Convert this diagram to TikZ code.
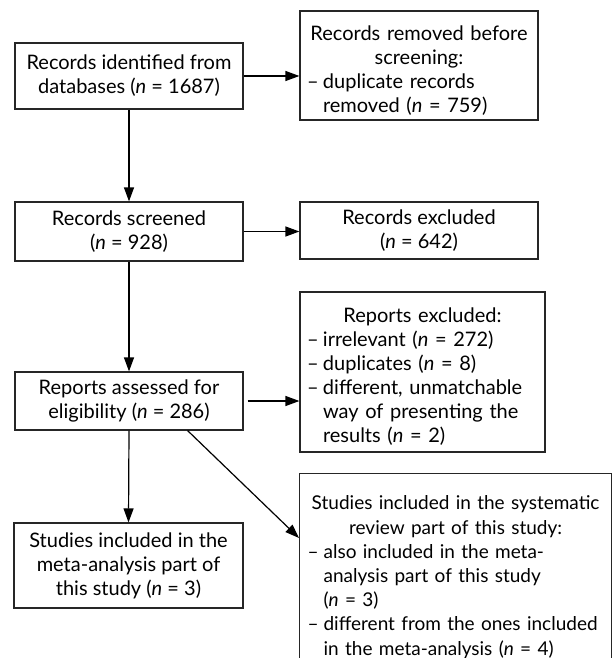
\documentclass[tikz,border=0pt]{standalone}
\usepackage{fontspec}
\setmainfont{Lato}
\usetikzlibrary{arrows.meta}
\newcommand{\dashitem}[1]{\par\hangindent=16pt\hangafter=1\noindent\makebox[16pt][l]{–}#1\par}
\newcommand{\hd}[1]{\par\noindent\makebox[\linewidth][c]{#1}\par}
\newcommand{\nl}{\hfil\break}
\begin{document}
\hyphenpenalty=10000
\begin{tikzpicture}[x=1pt,y=-1pt,
  box/.style={draw=black!85,line width=1.2pt,inner sep=0pt,
    font=\fontsize{20}{24}\selectfont,align=center},
  lbox/.style={draw=black!85,line width=1.2pt,inner ysep=0pt,inner xsep=7pt,
    font=\fontsize{20}{24}\selectfont,align=left},
  arr/.style={line width=1.2pt,draw=black,-{Triangle[length=14pt,width=10pt]}}]
\useasboundingbox (0,0) rectangle (612,658);
\clip (0,0) rectangle (612,658);
\node[box,minimum width=228pt,minimum height=66pt] (b1) at (129,76)
  {Records identified from\\databases (\textit{n} = 1687)};
\node[lbox,text width=224pt,minimum height=109pt] (b2) at (419,65.5)
  {\hd{Records removed before}\hd{screening:}%
   \dashitem{duplicate records\nl removed (\textit{n} = 759)}};
\node[box,minimum width=228pt,minimum height=59pt] (b3) at (129,231.5)
  {Records screened\\(\textit{n} = 928)};
\node[box,minimum width=238pt,minimum height=57pt] (b4) at (419,230.5)
  {Records excluded\\(\textit{n} = 642)};
\node[lbox,text width=231pt,minimum height=160pt] (b5) at (422.5,372)
  {\hd{Reports excluded:}%
   \dashitem{irrelevant (\textit{n} = 272)}%
   \dashitem{duplicates (\textit{n} = 8)}%
   \dashitem{different, unmatchable\nl way of presenting the\nl results (\textit{n} = 2)}};
\node[box,minimum width=228pt,minimum height=58pt] (b6) at (129,401)
  {Reports assessed for\\eligibility (\textit{n} = 286)};
\node[box,minimum width=229pt,minimum height=85pt] (b7) at (128.5,565.5)
  {Studies included in the\\meta-analysis part of\\this study (\textit{n} = 3)};
\node[lbox,text width=296pt,inner xsep=8pt,inner ysep=12pt,anchor=north west,
  font=\fontsize{19}{24.2}\selectfont] (b8) at (299,473)
  {\hd{Studies included in the systematic}\hd{review part of this study:}%
   \dashitem{also included in the meta-\nl analysis part of this study\nl (\textit{n} = 3)}%
   \dashitem{\mbox{different from the ones included}\nl \mbox{in the meta-analysis (\textit{n} = 4)}}};
\draw[arr] (b1.east) -- (b1.east -| b2.west);
\draw[arr] (b3.east) -- (b3.east -| b4.west);
\draw[arr] ([xshift=4pt]b6.east) -- (b6.east -| b5.west);
\draw[arr] (b1.south) -- (b3.north);
\draw[arr] (b3.south) -- (b6.north);
\draw[arr] (b6.south) -- (b7.north);
\draw[arr] ([xshift=-56pt]b6.south east) -- ([yshift=-65pt]b8.north west);
\end{tikzpicture}
\end{document}
